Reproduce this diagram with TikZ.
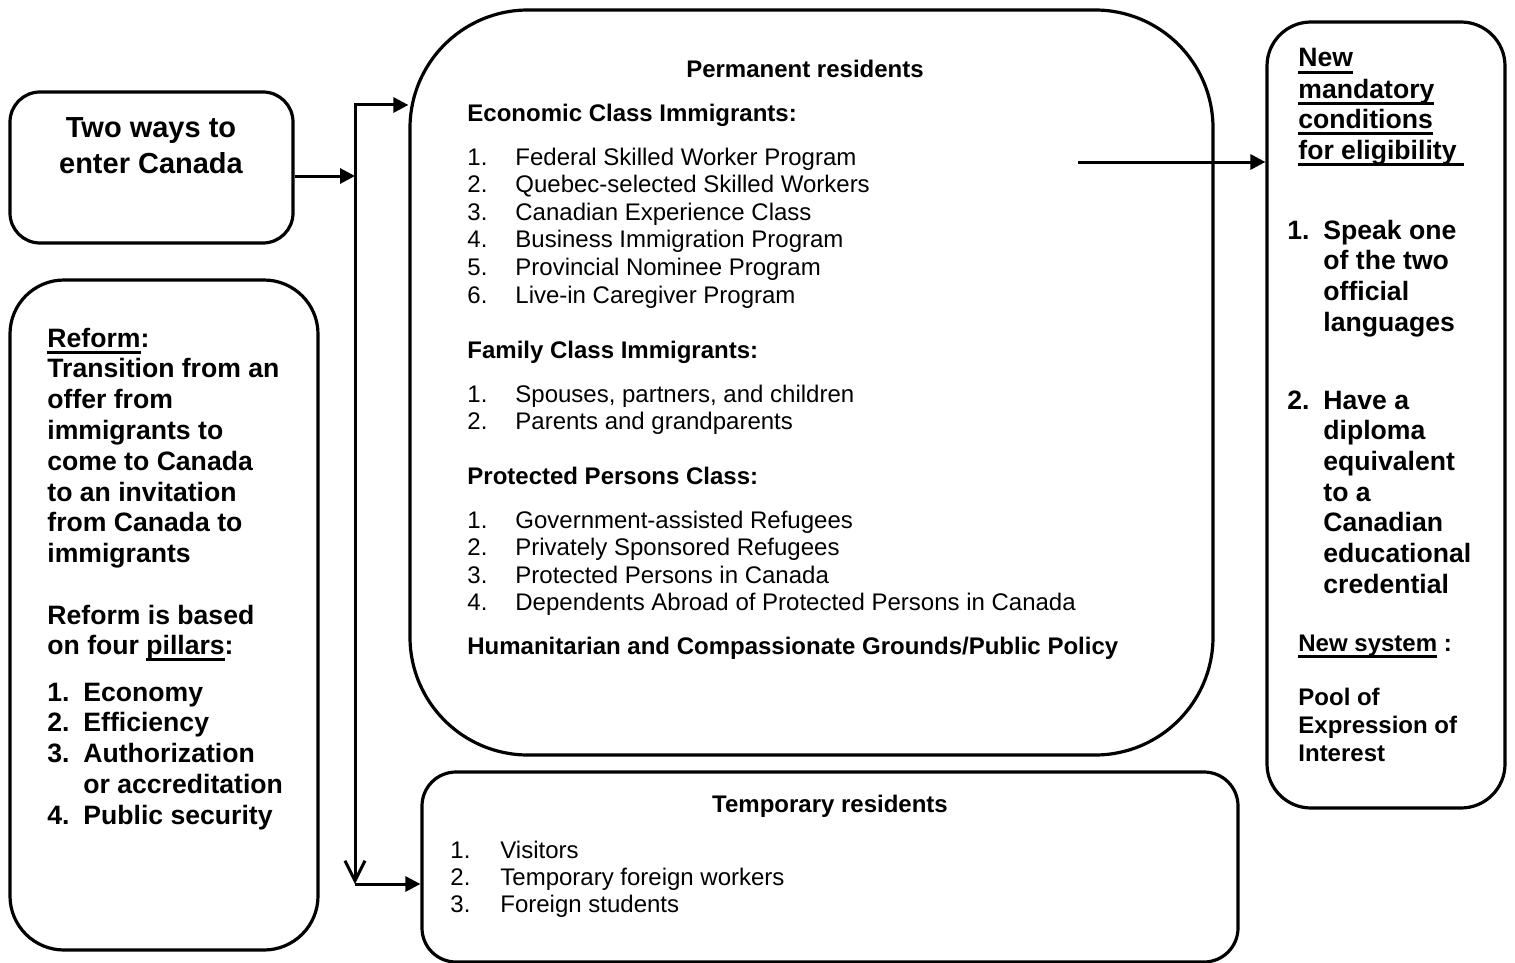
\documentclass[tikz,border=0pt]{standalone}
\usepackage{fontspec}
\setmainfont{Liberation Sans}
\usetikzlibrary{arrows.meta,fit}
\newsavebox{\undlbox}
\newcommand{\undl}[1]{\sbox{\undlbox}{#1}\rlap{\rule[-3.3pt]{\wd\undlbox}{1.5pt}}\usebox{\undlbox}}
\begin{document}
\begin{tikzpicture}[x=0.5pt, y=-0.5pt,
  box/.style={draw, line width=1.6pt, rounded corners=#1, inner sep=0pt},
  txt/.style={anchor=base west, inner sep=0pt, font=\fontsize{12}{14}\selectfont},
  hd/.style={txt, font=\bfseries\fontsize{12}{14}\selectfont},
  big/.style={txt, font=\bfseries\fontsize{13.3}{16}\selectfont},
  link/.style={line width=1.5pt, -{Triangle[length=7.5pt,width=7.5pt]}}]
\useasboundingbox (0,0) rectangle (1515,963);
% boxes
\node[box=15pt, fit={(10,92) (293,243)}] (ways) {};
\node[box=27pt, fit={(10,280) (318,950)}] (reform) {};
\node[box=59pt, fit={(410,10) (1213,755)}] (perm) {};
\node[box=17pt, fit={(422,772) (1238,962)}] (temp) {};
\node[box=22pt, fit={(1267,22) (1505,808)}] (cond) {};
% two ways
\node[big, anchor=base, font=\bfseries\fontsize{14.5}{17}\selectfont] (ways1) at (151,138) {Two ways to};
\node[big, anchor=base, font=\bfseries\fontsize{14.5}{17}\selectfont] (ways2) at (151,173) {enter Canada};
% reform
\node[big] (ref0) at (47,347) {\undl{Reform}:};
\foreach \t [count=\i] in {Transition from an, offer from, immigrants to, come to Canada, to an invitation, from Canada to, immigrants}
  \node[big] (ref\i) at (47,{347+30.8*\i}) {\t};
\node[big] (based1) at (47,624) {Reform is based};
\node[big] (based2) at (47,654) {on four \undl{pillars}:};
\foreach \n/\t/\y in {1/Economy/701, 2/Efficiency/731, 3/Authorization/762, 4/Public security/824} {
  \node[big] (pilnum\n) at (47,\y) {\n.};
  \node[big] (pil\n) at (83,\y) {\t};
}
\node[big] (pil3b) at (83,793) {or accreditation};
% permanent residents
\node[hd, anchor=base] (permtitle) at (805,78) {Permanent residents};
\node[hd] (eco) at (467,121) {Economic Class Immigrants:};
\foreach \t [count=\i] in {Federal Skilled Worker Program, Quebec-selected Skilled Workers, Canadian Experience Class, Business Immigration Program, Provincial Nominee Program, Live-in Caregiver Program} {
  \node[txt] (econum\i) at (467,{137.4+27.6*\i}) {\i.};
  \node[txt] (ecoitem\i) at (515,{137.4+27.6*\i}) {\t};
}
\node[hd] (fam) at (467,358) {Family Class Immigrants:};
\foreach \t [count=\i] in {{Spouses, partners, and children}, Parents and grandparents} {
  \node[txt] (famnum\i) at (467,{374.4+27.6*\i}) {\i.};
  \node[txt] (famitem\i) at (515,{374.4+27.6*\i}) {\t};
}
\node[hd] (prot) at (467,484) {Protected Persons Class:};
\foreach \t [count=\i] in {Government-assisted Refugees, Privately Sponsored Refugees, Protected Persons in Canada, Dependents Abroad of Protected Persons in Canada} {
  \node[txt] (protnum\i) at (467,{500.4+27.6*\i}) {\i.};
  \node[txt] (protitem\i) at (515,{500.4+27.6*\i}) {\t};
}
\node[hd] (human) at (467,654) {Humanitarian and Compassionate Grounds/Public Policy};
% temporary residents
\node[hd, anchor=base] (temptitle) at (830,812) {Temporary residents};
\foreach \t [count=\i] in {Visitors, Temporary foreign workers, Foreign students} {
  \node[txt] (tempnum\i) at (450,{831+27*\i}) {\i.};
  \node[txt] (tempitem\i) at (500,{831+27*\i}) {\t};
}
% conditions
\node[big] (new1) at (1298,67) {\undl{New}};
\node[big] (new2) at (1298,98) {\undl{mandatory}};
\node[big] (new3) at (1298,128) {\undl{conditions}};
\node[big] (new4) at (1298,159) {\undl{for eligibility\ }};
\node[big] (cnum1) at (1287,239) {1.};
\foreach \t [count=\i from 0] in {Speak one, of the two, official, languages}
  \node[big] (lang\i) at (1323,{239+30.7*\i}) {\t};
\node[big] (cnum2) at (1287,409) {2.};
\foreach \t [count=\i from 0] in {Have a, diploma, equivalent, to a, Canadian, educational, credential}
  \node[big] (dipl\i) at (1323,{409+30.7*\i}) {\t};
\node[hd] (sys) at (1298,651) {\undl{New system} :};
\node[hd] (pool1) at (1298,705) {Pool of};
\node[hd] (pool2) at (1298,733) {Expression of};
\node[hd] (pool3) at (1298,761) {Interest};
% connectors
\coordinate (bustop) at (355,105);
\coordinate (busjoin) at (355,176);
\coordinate (busbot) at (355,884);
\coordinate (out) at (1078,162);
\draw[link] (ways.east |- busjoin) -- (busjoin);
\draw[line width=1.5pt, {Triangle[length=7.5pt,width=7.5pt]}-{Straight Barb[length=10pt,width=10pt]}] (perm.west |- bustop) -- (bustop) -- (busbot);
\draw[link] (busbot) -- (temp.west |- busbot);
\draw[link] (out) -- (cond.west |- out);
\end{tikzpicture}
\end{document}
